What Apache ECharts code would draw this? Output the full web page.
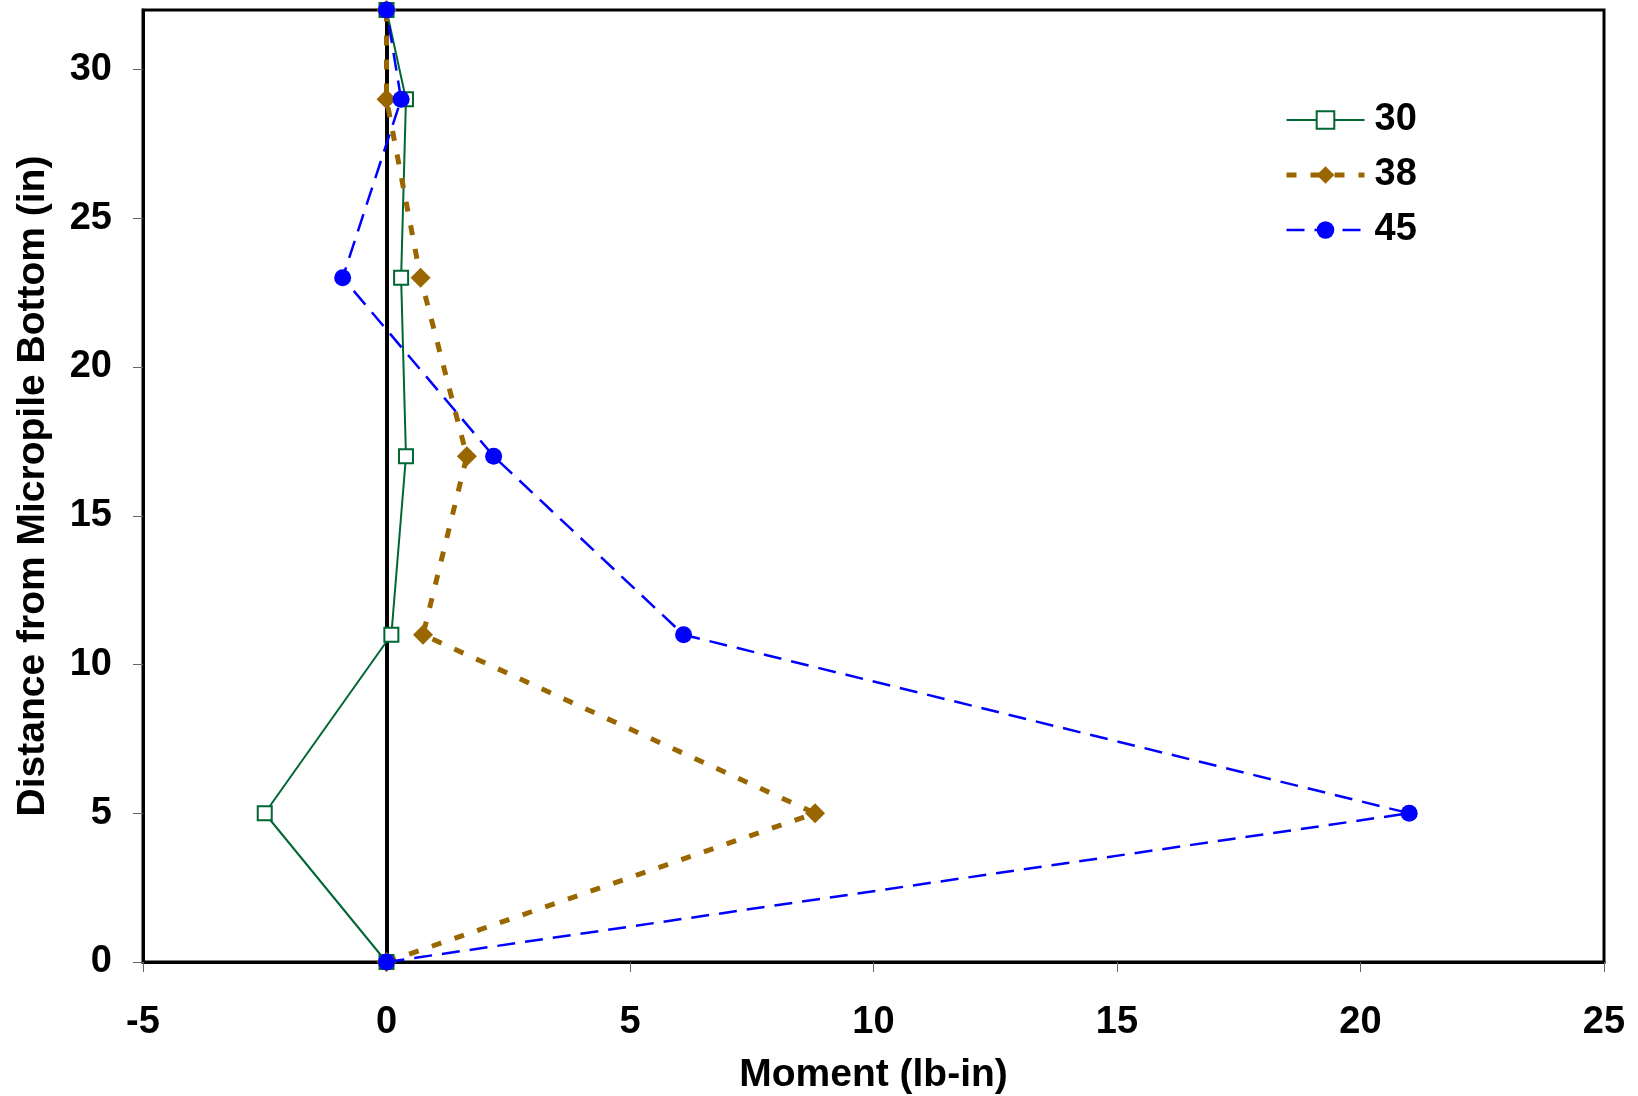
<!DOCTYPE html>
<html>
<head>
<meta charset="utf-8">
<script src="https://cdn.jsdelivr.net/npm/echarts@6/dist/echarts.min.js"></script>
<style>html,body{margin:0;padding:0;background:#fff}#c{width:1638px;height:1096px}</style>
</head>
<body>
<div id="c"></div>
<script>
const distances = [0, 5, 11, 17, 23, 29, 32];
const moment30 = [0, -2.5, 0.1, 0.4, 0.3, 0.4, 0];
const moment38 = [0, 8.8, 0.75, 1.65, 0.7, 0, 0];
const moment45 = [0, 21, 6.1, 2.2, -0.9, 0.3, 0];
const seriesNames = ['30', '38', '45'];
const yTicks = [0, 5, 10, 15, 20, 25, 30];
const xTitle = 'Moment (lb-in)';
const yTitle = 'Distance from Micropile Bottom (in)';

const pairs = arr => arr.map((m, i) => [m, distances[i]]);
const F = 'Liberation Sans, Arial, sans-serif';

const chart = echarts.init(document.getElementById('c'), null, {renderer: 'canvas'});
chart.setOption({
  animation: false,
  backgroundColor: '#fff',
  grid: {left: 143, right: 34, top: 10, bottom: 134, outerBoundsMode: 'none', containLabel: false,
         show: true, borderColor: '#000', borderWidth: 3, backgroundColor: 'transparent'},
  legend: {
    orient: 'vertical', left: 1279, top: 96, itemWidth: 78, itemHeight: 22, itemGap: 17,
    lineStyle: {width: 'inherit'},
    textStyle: {fontFamily: F, fontWeight: 'bold', fontSize: 38, color: '#000', lineHeight: 38, padding: [0,0,0,5]},
    data: seriesNames
  },
  xAxis: {
    type: 'value', min: -5, max: 25, interval: 5,
    name: xTitle, nameLocation: 'middle', nameGap: 94,
    nameTextStyle: {fontFamily: F, fontWeight: 'bold', fontSize: 39, color: '#000'},
    axisLine: {show: true, onZero: false, lineStyle: {color: '#000', width: 3}},
    axisTick: {show: true, inside: false, length: 10, lineStyle: {color: '#666', width: 1}},
    axisLabel: {fontFamily: F, fontWeight: 'bold', fontSize: 38, color: '#000', margin: 42},
    splitLine: {show: false}
  },
  yAxis: {
    type: 'value', min: 0, max: 32,
    name: yTitle, nameLocation: 'middle', nameGap: 90,
    nameTextStyle: {fontFamily: F, fontWeight: 'bold', fontSize: 39, color: '#000'},
    axisLine: {show: true, onZero: false, lineStyle: {color: '#000', width: 3}},
    axisTick: {show: true, length: 10, customValues: yTicks, lineStyle: {color: '#666', width: 1}},
    axisLabel: {fontFamily: F, fontWeight: 'bold', fontSize: 38, color: '#000', margin: 31, customValues: yTicks},
    splitLine: {show: false}
  },
  series: [
    {
      name: seriesNames[0], type: 'line', data: pairs(moment30), z: 3,
      symbol: 'rect', symbolSize: 14,
      itemStyle: {color: '#fff', borderColor: '#006633', borderWidth: 2},
      lineStyle: {color: '#006633', width: 2, type: 'solid'},
      markLine: {
        silent: true, symbol: ['none', 'none'], label: {show: false}, z: 1,
        lineStyle: {color: '#000', width: 4, type: 'solid'},
        data: [{xAxis: 0}]
      }
    },
    {
      name: seriesNames[1], type: 'line', data: pairs(moment38), z: 4,
      symbol: 'diamond', symbolSize: 20,
      itemStyle: {color: '#996600', borderColor: '#996600', borderWidth: 0},
      lineStyle: {color: '#996600', width: 5, type: [10, 14]}
    },
    {
      name: seriesNames[2], type: 'line', data: pairs(moment45), z: 5,
      symbol: 'circle', symbolSize: 17,
      itemStyle: {color: '#0000ff', borderWidth: 0},
      lineStyle: {color: '#0000ff', width: 2.5, type: [18, 10]}
    }
  ]
});
</script>
</body>
</html>
